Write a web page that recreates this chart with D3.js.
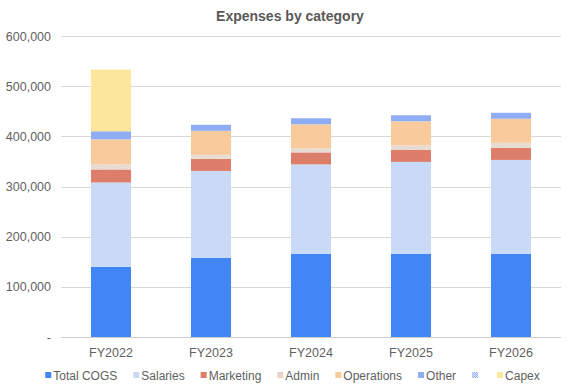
<!DOCTYPE html>
<html>
<head>
<meta charset="utf-8">
<script src="https://cdn.jsdelivr.net/npm/d3@7"></script>
<style>
  body { margin: 0; background: #fff; }
  text { font-family: "Liberation Sans", Arial, sans-serif; }
</style>
</head>
<body>
<div id="viz_div"></div>
<script>
// DATA
const years = ["FY2022", "FY2023", "FY2024", "FY2025", "FY2026"];
const seriesNames = ["Total COGS", "Salaries", "Marketing", "Admin", "Operations", "Other", "", "Capex"];
const totalCogs  = [140000, 158000, 166000, 166000, 166000];
const salaries   = [168000, 173000, 178000, 183000, 187000];
const marketing  = [26000, 24000, 24000, 24000, 24000];
const admin      = [10000, 8000, 8000, 9000, 10000];
const operations = [50000, 48000, 48000, 48000, 48000];
const other      = [16000, 12000, 12000, 12000, 12000];
const blank      = [0, 0, 0, 0, 0];
const capex      = [123000, 0, 0, 0, 0];
const yTicks = [0, 100000, 200000, 300000, 400000, 500000, 600000];

const seriesValues = [totalCogs, salaries, marketing, admin, operations, other, blank, capex];

// SCALES
const width = 574, height = 390;
const margin = { top: 36, right: 13, bottom: 53, left: 61 };

const svg = d3.select("#viz_div").append("svg")
    .attr("width", width)
    .attr("height", height);

const defs = svg.append("defs");
function checker(id, c1, c2, s) {
    const p = defs.append("pattern")
        .attr("id", id)
        .attr("width", 2 * s).attr("height", 2 * s)
        .attr("patternUnits", "userSpaceOnUse");
    p.append("rect").attr("width", 2 * s).attr("height", 2 * s).attr("fill", c2);
    p.append("rect").attr("width", s).attr("height", s).attr("fill", c1);
    p.append("rect").attr("x", s).attr("y", s).attr("width", s).attr("height", s).attr("fill", c1);
}
checker("adminPat", "#e0cfc4", "#f1e8e2", 1.5);
checker("blankPat", "#8fadf3", "#dce6fb", 1);

const colors = ["#4285f4", "#c9daf8", "#dd7e6b", "url(#adminPat)", "#f9cb9c", "#8fadf4", "url(#blankPat)", "#fce59c"];
const legendColors = ["#4285f4", "#c9daf8", "#dd7e6b", "#e8d3c6", "#f9cb9c", "#8fadf4", "url(#blankPat)", "#fce59c"];

const x = d3.scaleBand()
    .domain(years)
    .range([margin.left, width - margin.right])
    .paddingInner(0.6)
    .paddingOuter(0.3);

const y = d3.scaleLinear()
    .domain([0, 600000])
    .range([height - margin.bottom, margin.top]);

// GRIDLINES
svg.append("g")
    .selectAll("line")
    .data(yTicks)
    .enter()
    .append("line")
    .attr("x1", margin.left)
    .attr("x2", width - margin.right)
    .attr("y1", d => Math.round(y(d)) + 0.5)
    .attr("y2", d => Math.round(y(d)) + 0.5)
    .attr("stroke", d => d === 0 ? "#cfcfcf" : "#ddd6d6")
    .attr("stroke-width", 1);

// STACKED BARS
const table = years.map((yr, i) => {
    const row = { year: yr };
    seriesValues.forEach((vals, k) => { row["s" + k] = vals[i]; });
    return row;
});
const keys = seriesValues.map((v, k) => "s" + k);
const stacked = d3.stack().keys(keys)(table);

svg.append("g")
    .selectAll("g")
    .data(stacked)
    .enter()
    .append("g")
    .attr("fill", (d, k) => colors[k])
    .selectAll("rect")
    .data(d => d)
    .enter()
    .append("rect")
    .attr("x", d => x(d.data.year))
    .attr("width", x.bandwidth())
    .attr("y", d => y(d[1]))
    .attr("height", d => y(d[0]) - y(d[1]));

// AXES
const fmt = d3.format(",");
svg.append("g")
    .attr("transform", `translate(${margin.left - 10},0)`)
    .call(d3.axisLeft(y).tickValues(yTicks).tickSize(0).tickPadding(0)
        .tickFormat(d => d === 0 ? "-" : fmt(d)))
    .call(g => g.select(".domain").remove())
    .call(g => g.selectAll("text")
        .attr("fill", "#5f5f5f")
        .style("font-size", "12.5px")
        .attr("font-family", null));

svg.append("g")
    .attr("transform", `translate(0,${height - margin.bottom})`)
    .call(d3.axisBottom(x).tickSize(0).tickPadding(11))
    .call(g => g.select(".domain").remove())
    .call(g => g.selectAll("text")
        .attr("fill", "#5f5f5f")
        .style("font-size", "12.5px")
        .attr("font-family", null));

// TITLE
svg.append("text")
    .attr("x", 290)
    .attr("y", 21)
    .attr("text-anchor", "middle")
    .attr("fill", "#595959")
    .style("font-size", "14px")
    .style("font-weight", "bold")
    .text("Expenses by category");

// LEGEND
const legend = svg.append("g");
let lx = 0;
const gap = 16;
seriesNames.forEach((name, k) => {
    const item = legend.append("g").attr("transform", `translate(${lx},0)`);
    item.append("rect")
        .attr("x", 0).attr("y", -8)
        .attr("width", 6).attr("height", 6)
        .attr("fill", legendColors[k]);
    const t = item.append("text")
        .attr("x", 8).attr("y", 0)
        .attr("fill", "#5f5f5f")
        .style("font-size", "12px")
        .text(name);
    const w = name ? t.node().getComputedTextLength() : 1;
    lx += 8 + w + gap;
});
const legendWidth = lx - gap;
legend.attr("transform", `translate(${292.5 - legendWidth / 2},${380})`);
</script>
</body>
</html>
